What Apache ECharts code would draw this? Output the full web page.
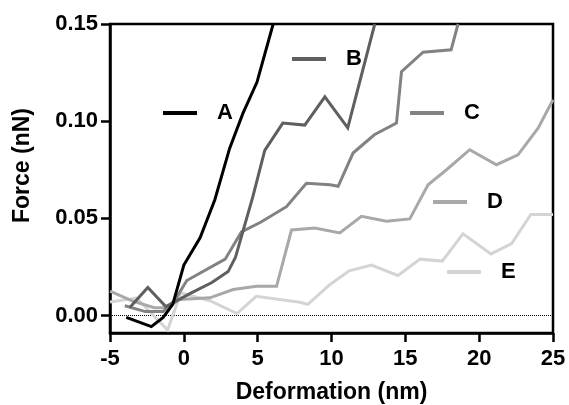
<!DOCTYPE html>
<html>
<head>
<meta charset="utf-8">
<script src="https://cdn.jsdelivr.net/npm/echarts@6/dist/echarts.min.js"></script>
<style>
    html, body { margin: 0; padding: 0; background: #fff; }
    #chart { width: 569px; height: 405px; }
</style>
</head>
<body>
<div id="chart"></div>
<script>
// 曲线数据 [形变 nm, 力 nN]
const seriesA = [[-3.9, -0.001], [-2.2, -0.0057], [-1.4, -0.001], [-0.75, 0.0057], [0.0, 0.026],
    [1.1, 0.040], [2.1, 0.0596], [3.1, 0.086], [4.0, 0.104], [4.95, 0.12], [6.05, 0.15]];
const seriesB = [[-3.66, 0.0041], [-2.44, 0.0144], [-1.22, 0.0046], [0.54, 0.0118], [1.9, 0.017],
    [3.0, 0.0226], [3.5, 0.030], [4.67, 0.061], [5.48, 0.085], [6.7, 0.099], [8.19, 0.098],
    [9.55, 0.1125], [11.1, 0.0966], [12.93, 0.15]];
const seriesC = [[-4.0, 0.005], [-2.6, 0.002], [-1.4, 0.002], [-0.6, 0.008], [0.2, 0.018],
    [2.8, 0.029], [3.9, 0.043], [5.2, 0.048], [6.95, 0.056], [8.3, 0.068], [9.9, 0.0673],
    [10.45, 0.0665], [11.46, 0.0836], [12.9, 0.093], [14.4, 0.099], [14.74, 0.1255],
    [16.2, 0.1355], [18.1, 0.1367], [18.57, 0.15]];
const seriesD = [[-5.0, 0.0125], [-3.5, 0.0075], [-2.0, 0.004], [-1.2, 0.004], [-0.27, 0.0082],
    [1.76, 0.0091], [3.34, 0.0134], [4.92, 0.015], [6.28, 0.015], [7.29, 0.044], [8.87, 0.045],
    [10.56, 0.0425], [12.03, 0.051], [13.72, 0.0485], [15.3, 0.0497], [16.54, 0.0673],
    [17.79, 0.075], [19.36, 0.0853], [21.17, 0.0776], [22.63, 0.0827], [24.0, 0.0965], [25.0, 0.111]];
const seriesE = [[-5.0, 0.007], [-3.2, 0.009], [-1.1, -0.0075], [-0.2, 0.0117], [1.8, 0.0075],
    [3.6, 0.001], [4.9, 0.0099], [7.85, 0.0068], [8.4, 0.0057], [9.9, 0.016], [11.2, 0.023],
    [12.7, 0.026], [14.5, 0.0206], [16.0, 0.029], [17.5, 0.028], [18.9, 0.042], [20.8, 0.0317],
    [22.2, 0.037], [23.5, 0.052], [25.0, 0.052]];

const names = ['A', 'B', 'C', 'D', 'E'];
const colors = ['#000000', '#5f5f5f', '#828282', '#a8a8a8', '#d4d4d4'];
const yTicks = [0, 0.05, 0.10, 0.15];

const font = "'Liberation Sans', Arial, sans-serif";

// 图例位置（图内标注）
const legendPos = [
    {left: 163, top: 102},
    {left: 292, top: 48},
    {left: 410, top: 102},
    {left: 433, top: 191},
    {left: 447, top: 261}
];

let chart = echarts.init(document.getElementById('chart'));

let allData = [seriesA, seriesB, seriesC, seriesD, seriesE];
let series = allData.map((d, i) => {
    let s = {
        name: names[i],
        type: 'line',
        data: d,
        showSymbol: false,
        color: colors[i],
        lineStyle: {width: 3, color: colors[i], join: 'miter'},
        z: 10 - i,
        animation: false
    };
    if (i === 0) {
        // 零线
        s.markLine = {
            silent: true,
            symbol: ['none', 'none'],
            label: {show: false},
            lineStyle: {type: 'dotted', color: '#000', width: 1},
            data: [{yAxis: 0}],
            animation: false
        };
    }
    return s;
});

let legends = names.map((n, i) => ({
    data: [n],
    left: legendPos[i].left,
    top: legendPos[i].top,
    padding: 0,
    icon: 'rect',
    itemWidth: 34,
    itemHeight: 4,
    selectedMode: false,
    textStyle: {
        fontFamily: font,
        fontWeight: 'bold',
        fontSize: 22,
        color: '#000',
        padding: [0, 0, 0, 15]
    }
}));

let axisText = {fontFamily: font, fontWeight: 'bold', fontSize: 22, color: '#000'};

let option = {
    backgroundColor: '#fff',
    animation: false,
    grid: {
        left: 110, right: 16, top: 24, bottom: 72,
        outerBoundsMode: 'none',
        show: true, borderColor: '#000', borderWidth: 2.5
    },
    legend: legends,
    xAxis: {
        type: 'value',
        min: -5, max: 25, interval: 5,
        name: 'Deformation (nm)',
        nameLocation: 'middle',
        nameGap: 48,
        nameTextStyle: {fontFamily: font, fontWeight: 'bold', fontSize: 23, color: '#000'},
        axisLine: {show: true, onZero: false, lineStyle: {color: '#000', width: 2.5}},
        axisTick: {show: true, length: 9, lineStyle: {color: '#000', width: 2.5}},
        axisLabel: Object.assign({margin: 15}, axisText),
        splitLine: {show: false}
    },
    yAxis: {
        type: 'value',
        min: -0.009, max: 0.15,
        name: 'Force (nN)',
        nameLocation: 'middle',
        nameGap: 76,
        nameTextStyle: {fontFamily: font, fontWeight: 'bold', fontSize: 23, color: '#000', padding: [0, 0, 0, 26]},
        axisLine: {show: true, onZero: false, lineStyle: {color: '#000', width: 2.5}},
        axisTick: {show: true, length: 9, customValues: yTicks, lineStyle: {color: '#000', width: 2.5}},
        axisLabel: Object.assign({
            margin: 12,
            customValues: yTicks,
            formatter: v => v.toFixed(2)
        }, axisText),
        splitLine: {show: false}
    },
    series: series
};

chart.setOption(option);
</script>
</body>
</html>
